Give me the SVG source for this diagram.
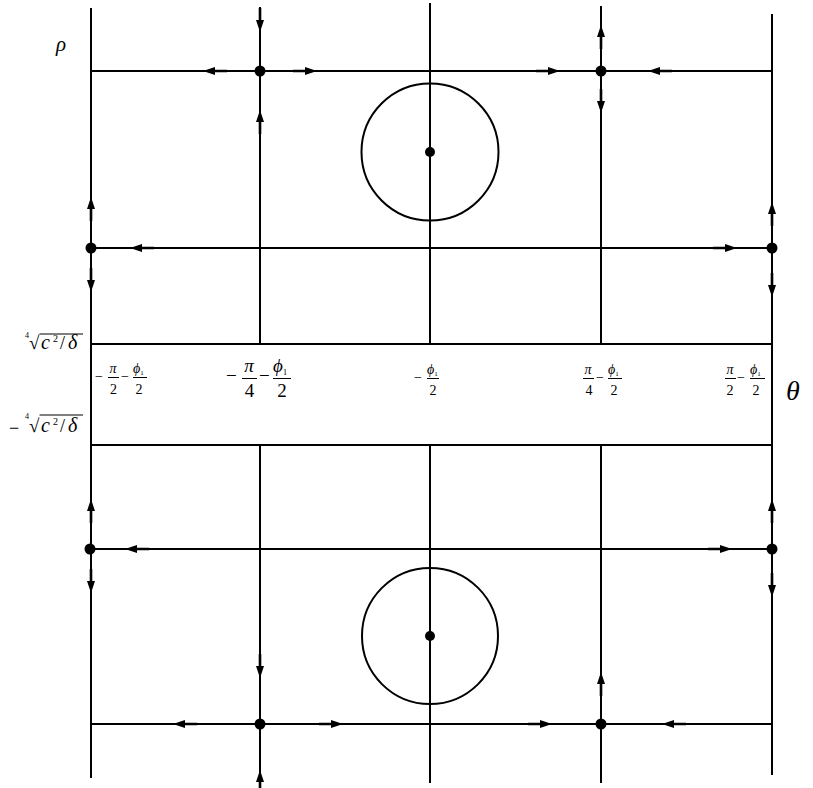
<svg xmlns="http://www.w3.org/2000/svg" xmlns:xlink="http://www.w3.org/1999/xlink" width="813" height="788" viewBox="0 0 813 788">
<style>
  .ln{stroke:#000;stroke-width:2;fill:none}
  .bar{stroke:#000;stroke-width:1;fill:none}
  .dot{fill:#000}
  .cir{stroke:#000;stroke-width:2;fill:none}
  .t{font-family:"Liberation Serif","Times New Roman",serif;fill:#000}
  .i{font-style:italic}
  .s{font-size:14px}
  .m{font-size:19px}
</style>
<defs>
  <path id="ah" d="M0,0 L-12,-4 L-12,4 Z M-12,-1.3 L-24,-1.3 L-24,1.3 L-12,1.3 Z" fill="#000"/>
</defs>
<rect width="813" height="788" fill="#fff"/>
<g id="connectors">
  <line class="ln" x1="91" y1="8" x2="91" y2="778"/>
  <line class="ln" x1="772" y1="14" x2="772" y2="775"/>
  <line class="ln" x1="260" y1="7" x2="260" y2="344"/>
  <line class="ln" x1="260" y1="445" x2="260" y2="780"/>
  <line class="ln" x1="430" y1="3" x2="430" y2="344"/>
  <line class="ln" x1="430" y1="445" x2="430" y2="783"/>
  <line class="ln" x1="601" y1="6" x2="601" y2="344"/>
  <line class="ln" x1="601" y1="445" x2="601" y2="783"/>
  <line class="ln" x1="91" y1="71" x2="772" y2="71"/>
  <line class="ln" x1="91" y1="248" x2="772" y2="248"/>
  <line class="ln" x1="91" y1="344" x2="772" y2="344"/>
  <line class="ln" x1="91" y1="445" x2="772" y2="445"/>
  <line class="ln" x1="89" y1="549" x2="772" y2="549"/>
  <line class="ln" x1="91" y1="724" x2="772" y2="724"/>
  <g id="arrows">
    <use xlink:href="#ah" transform="translate(203,71) rotate(180)"/>
    <use xlink:href="#ah" transform="translate(317,71)"/>
    <use xlink:href="#ah" transform="translate(560,71)"/>
    <use xlink:href="#ah" transform="translate(648,71) rotate(180)"/>
    <use xlink:href="#ah" transform="translate(260,32) rotate(90)"/>
    <use xlink:href="#ah" transform="translate(260,110) rotate(-90)"/>
    <use xlink:href="#ah" transform="translate(601,25) rotate(-90)"/>
    <use xlink:href="#ah" transform="translate(601,113) rotate(90)"/>
    <use xlink:href="#ah" transform="translate(130,248) rotate(180)"/>
    <use xlink:href="#ah" transform="translate(737,248)"/>
    <use xlink:href="#ah" transform="translate(91,197) rotate(-90)"/>
    <use xlink:href="#ah" transform="translate(91,292) rotate(90)"/>
    <use xlink:href="#ah" transform="translate(772,202) rotate(-90)"/>
    <use xlink:href="#ah" transform="translate(772,297) rotate(90)"/>
    <use xlink:href="#ah" transform="translate(125,549) rotate(180)"/>
    <use xlink:href="#ah" transform="translate(732,549)"/>
    <use xlink:href="#ah" transform="translate(91,499) rotate(-90)"/>
    <use xlink:href="#ah" transform="translate(91,593) rotate(90)"/>
    <use xlink:href="#ah" transform="translate(772,499) rotate(-90)"/>
    <use xlink:href="#ah" transform="translate(772,597) rotate(90)"/>
    <use xlink:href="#ah" transform="translate(173,724) rotate(180)"/>
    <use xlink:href="#ah" transform="translate(343,724)"/>
    <use xlink:href="#ah" transform="translate(552,724)"/>
    <use xlink:href="#ah" transform="translate(662,724) rotate(180)"/>
    <use xlink:href="#ah" transform="translate(260,770) rotate(-90)"/>
    <use xlink:href="#ah" transform="translate(260,678) rotate(90)"/>
    <use xlink:href="#ah" transform="translate(601,672) rotate(-90)"/>
  </g>
</g>
<g id="orbit-top"><circle class="cir" cx="430" cy="152" r="68.5"/></g>
<g id="orbit-bottom"><circle class="cir" cx="430" cy="636" r="68"/></g>
<g id="eq-1"><circle class="dot" cx="260" cy="71" r="5.5"/></g>
<g id="eq-2"><circle class="dot" cx="601" cy="71" r="5.5"/></g>
<g id="eq-3"><circle class="dot" cx="430" cy="152" r="5"/></g>
<g id="eq-4"><circle class="dot" cx="91" cy="248" r="5.5"/></g>
<g id="eq-5"><circle class="dot" cx="772" cy="248" r="5.5"/></g>
<g id="eq-6"><circle class="dot" cx="90" cy="549" r="5.5"/></g>
<g id="eq-7"><circle class="dot" cx="772" cy="549" r="5.5"/></g>
<g id="eq-8"><circle class="dot" cx="430" cy="636" r="5"/></g>
<g id="eq-9"><circle class="dot" cx="260" cy="724" r="5.5"/></g>
<g id="eq-10"><circle class="dot" cx="601" cy="724" r="5.5"/></g>

<g id="axis-labels">
  <text class="t i" x="56" y="51" font-size="21">ρ</text>
  <text class="t i" x="786" y="400" font-size="28">θ</text>
</g>

<g id="rho-top-label">
  <text class="t" x="25" y="338" font-size="8">4</text>
  <text class="t" x="29" y="349" font-size="19">√</text>
  <line class="bar" x1="39.5" y1="334" x2="83" y2="334"/>
  <text class="t i" x="41" y="349" font-size="20">c</text>
  <text class="t" x="53" y="342" font-size="10">2</text>
  <text class="t" x="60" y="349" font-size="18">/</text>
  <text class="t i" x="68" y="349" font-size="20">δ</text>
</g>
<g id="rho-bottom-label">
  <text class="t" x="9" y="434" font-size="18">−</text>
  <text class="t" x="25" y="419" font-size="8">4</text>
  <text class="t" x="29" y="432" font-size="19">√</text>
  <line class="bar" x1="39.5" y1="415" x2="83" y2="415"/>
  <text class="t i" x="41" y="432" font-size="20">c</text>
  <text class="t" x="53" y="425" font-size="10">2</text>
  <text class="t" x="60" y="432" font-size="18">/</text>
  <text class="t i" x="68" y="432" font-size="20">δ</text>
</g>

<g id="tick-1">
  <text class="t s" x="95" y="381">−</text>
  <text class="t s i" x="113" y="373" text-anchor="middle">π</text>
  <line class="bar" x1="108" y1="377.5" x2="119" y2="377.5"/>
  <text class="t s" x="113.5" y="394" text-anchor="middle">2</text>
  <text class="t s" x="121" y="381">−</text>
  <text class="t s i" x="133" y="373">ϕ<tspan font-size="7" font-style="normal" dy="2">1</tspan></text>
  <line class="bar" x1="133" y1="377.5" x2="147" y2="377.5"/>
  <text class="t s" x="139" y="394" text-anchor="middle">2</text>
</g>
<g id="tick-2">
  <text class="t m" x="226" y="382">−</text>
  <text class="t m i" x="249" y="372" text-anchor="middle">π</text>
  <line class="bar" x1="242" y1="378.5" x2="257" y2="378.5"/>
  <text class="t m" x="249.5" y="397" text-anchor="middle">4</text>
  <text class="t m" x="259" y="382">−</text>
  <text class="t m i" x="273" y="372">ϕ<tspan font-size="9" font-style="normal" dy="3">1</tspan></text>
  <line class="bar" x1="273" y1="378.5" x2="291" y2="378.5"/>
  <text class="t m" x="282" y="397" text-anchor="middle">2</text>
</g>
<g id="tick-3">
  <text class="t s" x="414" y="382">−</text>
  <text class="t s i" x="427" y="374">ϕ<tspan font-size="7" font-style="normal" dy="2">1</tspan></text>
  <line class="bar" x1="427" y1="378.5" x2="439" y2="378.5"/>
  <text class="t s" x="433" y="395" text-anchor="middle">2</text>
</g>
<g id="tick-4">
  <text class="t s i" x="588" y="374" text-anchor="middle">π</text>
  <line class="bar" x1="583" y1="378.5" x2="594" y2="378.5"/>
  <text class="t s" x="589" y="395" text-anchor="middle">4</text>
  <text class="t s" x="596" y="382">−</text>
  <text class="t s i" x="608" y="374">ϕ<tspan font-size="7" font-style="normal" dy="2">1</tspan></text>
  <line class="bar" x1="608" y1="378.5" x2="622" y2="378.5"/>
  <text class="t s" x="614" y="395" text-anchor="middle">2</text>
</g>
<g id="tick-5">
  <text class="t s i" x="730" y="374" text-anchor="middle">π</text>
  <line class="bar" x1="725" y1="378.5" x2="736" y2="378.5"/>
  <text class="t s" x="730" y="395" text-anchor="middle">2</text>
  <text class="t s" x="737" y="382">−</text>
  <text class="t s i" x="750" y="374">ϕ<tspan font-size="7" font-style="normal" dy="2">1</tspan></text>
  <line class="bar" x1="750" y1="378.5" x2="765" y2="378.5"/>
  <text class="t s" x="756" y="395" text-anchor="middle">2</text>
</g>
</svg>
